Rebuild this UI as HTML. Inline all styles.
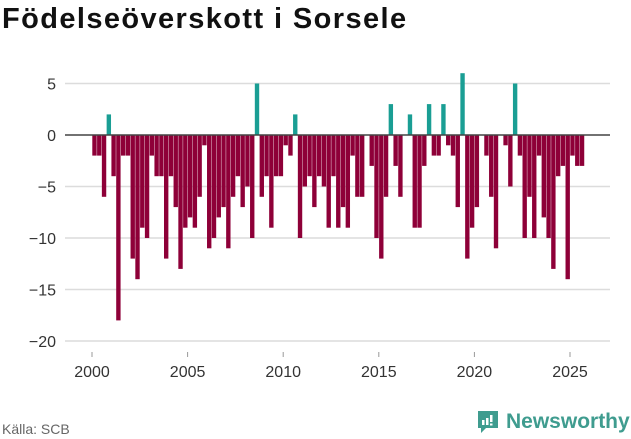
<!DOCTYPE html>
<html><head><meta charset="utf-8">
<style>
body{margin:0;width:631px;height:439px;background:#fff;font-family:"Liberation Sans",sans-serif;overflow:hidden;position:relative}
#title{position:absolute;left:2px;top:3px;font-size:29px;font-weight:bold;color:#111;margin:0;letter-spacing:1.4px}
#src{position:absolute;left:2px;top:421px;font-size:14px;color:#666}
</style></head><body>
<h1 id="title">Födelseöverskott i Sorsele</h1>
<svg id="chart" width="631" height="439" style="position:absolute;left:0;top:0"></svg>
<div id="src">Källa: SCB</div>
<div style="position:absolute;left:476px;top:409px;display:flex;align-items:center">
<svg width="24" height="26"><path d="M2 2h20v17h-12l-5 5v-5h-3z" fill="#3f9c8f"/><rect x="6" y="11" width="2.5" height="5" fill="#fff"/><rect x="10" y="9" width="2.5" height="7" fill="#fff"/><rect x="14" y="6" width="2.5" height="7" fill="#fff"/><rect x="14" y="14.5" width="2.5" height="2" fill="#fff"/></svg>
<span style="font-size:21px;color:#3f9c8f;margin-left:6px;font-weight:bold">Newsworthy</span>
</div>
<script>
const values=[-2,-2,-6,2,-4,-18,-2,-2,-12,-14,-9,-10,-2,-4,-4,-12,-4,-7,-13,-9,-8,-9,-6,-1,-11,-10,-8,-7,-11,-6,-4,-7,-5,-10,5,
-6,-4,-9,-4,-4,-1,-2,2,-10,-5,-4,-7,-4,-5,-9,-4,-9,-7,-9,-2,-6,-6,0,-3,-10,-12,-6,3,-3,-6,0,2,-9,-9,-3,3,
-2,-2,3,-1,-2,-7,6,-12,-9,-7,0,-2,-6,-11,0,-1,-5,5,-2,-10,-6,-10,-2,-8,-10,-13,-4,-3,-14,-2,-3,-3];
const startYear=2000;
const yTicks=[5,0,-5,-10,-15,-20];
const xTicks=[2000,2005,2010,2015,2020,2025];
const NS="http://www.w3.org/2000/svg";
const svg=document.getElementById('chart');
const x0=92,pq=4.78,y0=135,pu=10.3;
function xs(q){return x0+q*pq;}
function ys(v){return y0-v*pu;}
function mk(t,a){const e=document.createElementNS(NS,t);for(const k in a)e.setAttribute(k,a[k]);svg.appendChild(e);return e;}
yTicks.forEach(v=>{
  if(v!==0){const g=mk('line',{x1:65,x2:610,y1:ys(v),y2:ys(v),stroke:'#dcdcdc','stroke-width':1.5});
  
  }
  const t=mk('text',{x:56,y:ys(v)+6,'text-anchor':'end','font-size':16,fill:'#333','font-family':'Liberation Sans, sans-serif'});
  t.textContent=v===0?'0':(v<0?'−'+(-v):String(v));
  
  
});
values.forEach((v,i)=>{
  if(v===0)return;
  const y=Math.min(ys(v),y0),h=Math.abs(ys(v)-y0);
  const r=mk('rect',{x:xs(i)+0.3,y:y,width:pq-0.4,height:h,fill:v>0?'#1a9e94':'#8e0038'});
  
  
});
const z=mk('line',{x1:65,x2:610,y1:y0,y2:y0,stroke:'#444','stroke-width':1.6});


xTicks.forEach(yr=>{
  const x=xs((yr-startYear)*4);
  const tk=mk('line',{x1:x,x2:x,y1:352,y2:357,stroke:'#999'});
  
  
  const t=mk('text',{x:x,y:377,'text-anchor':'middle','font-size':16,fill:'#333','font-family':'Liberation Sans, sans-serif'});
  t.textContent=yr;
  
  
});
</script>
</body></html>
